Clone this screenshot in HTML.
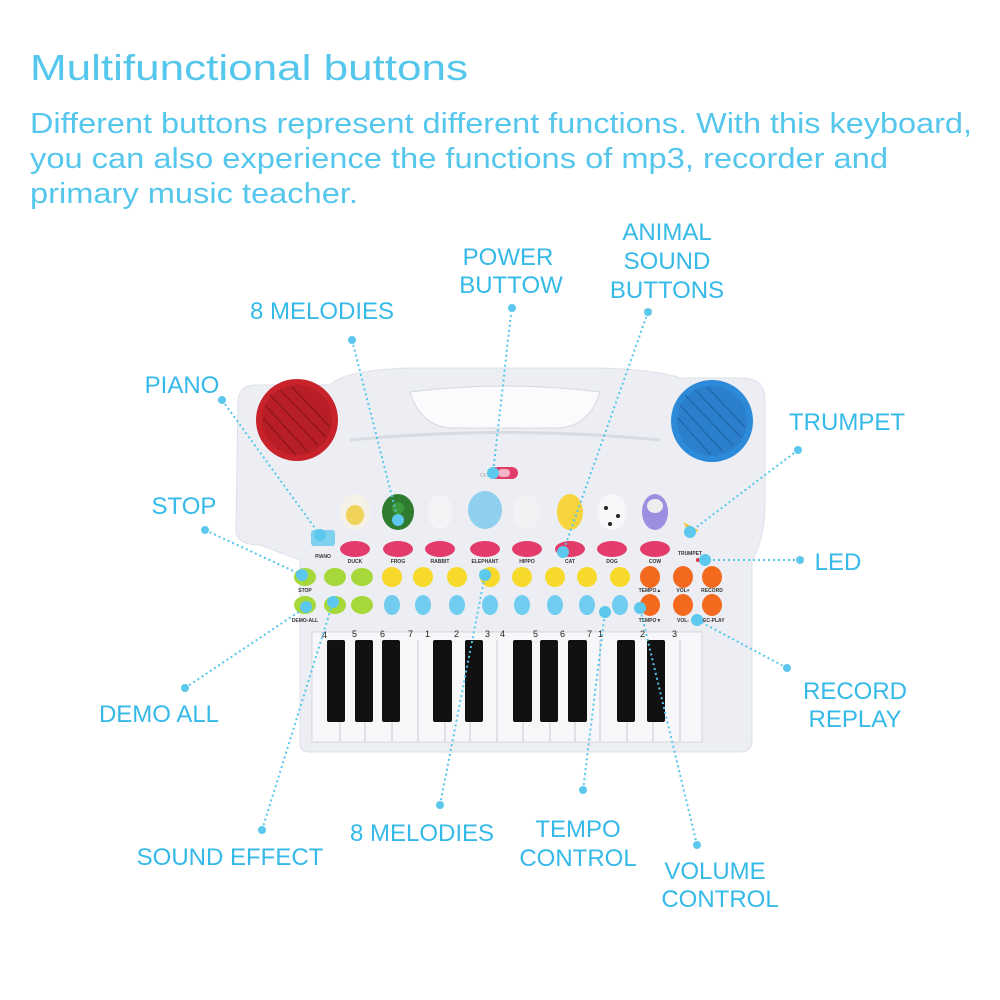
<!DOCTYPE html>
<html><head><meta charset="utf-8"><style>
html,body{margin:0;padding:0;background:#fff;}
svg{display:block;}
text{font-family:"Liberation Sans",sans-serif;}
.t{fill:#55c6ec;font-weight:300;}
.l{fill:#35b9e8;font-size:24px;}
.c{stroke:#55c6ec;stroke-width:2;stroke-dasharray:2 3;fill:none;}
.d{fill:#5cc8ee;}
.sl{font-size:5px;fill:#333;font-weight:bold;text-anchor:middle;}
</style></head><body>
<svg width="1000" height="1000" viewBox="0 0 1000 1000" xmlns="http://www.w3.org/2000/svg">
<rect width="1000" height="1000" fill="#fff"/>
<text class="t" x="30" y="80" font-size="36" textLength="438" lengthAdjust="spacingAndGlyphs">Multifunctional buttons</text>
<text class="t" x="30" y="133" font-size="29" textLength="942" lengthAdjust="spacingAndGlyphs">Different buttons represent different functions. With this keyboard,</text>
<text class="t" x="30" y="168" font-size="29" textLength="858" lengthAdjust="spacingAndGlyphs">you can also experience the functions of mp3, recorder and</text>
<text class="t" x="30" y="203" font-size="29" textLength="328" lengthAdjust="spacingAndGlyphs">primary music teacher.</text>

<!-- keyboard body -->
<path d="M255 385 Q240 385 238 400 L236 530 Q236 545 260 545 L300 560 L300 745 Q300 752 310 752 L740 752 Q752 752 752 740 L752 560 Q765 540 765 500 L765 400 Q765 380 745 378 L680 378 Q660 370 600 368 L410 368 Q345 370 330 385 Z" fill="#eceef3" stroke="#dde0e7"/>
<path d="M410 392 Q505 380 600 392 Q590 425 560 428 L450 428 Q420 425 410 392 Z" fill="#fbfbfd" stroke="#d5d8df"/>
<path d="M350 440 Q505 425 660 440" stroke="#d8dbe2" fill="none" stroke-width="3"/>
<circle cx="297" cy="420" r="41" fill="#c8222a"/>
<circle cx="297" cy="420" r="35" fill="#b81e25"/>
<circle cx="712" cy="421" r="41" fill="#2c8ad8"/>
<circle cx="712" cy="421" r="35" fill="#2b7fcc"/>
<g stroke="#7a1015" stroke-width="1.5" opacity=".6">
<line x1="270" y1="395" x2="318" y2="445"/><line x1="265" y1="405" x2="308" y2="452"/><line x1="280" y1="390" x2="326" y2="437"/><line x1="292" y1="387" x2="330" y2="427"/><line x1="263" y1="418" x2="296" y2="455"/>
</g>
<g stroke="#1b5c9a" stroke-width="1.5" opacity=".6">
<line x1="685" y1="395" x2="733" y2="445"/><line x1="680" y1="405" x2="723" y2="452"/><line x1="695" y1="390" x2="741" y2="437"/><line x1="707" y1="387" x2="745" y2="427"/><line x1="678" y1="418" x2="711" y2="455"/>
</g>
<rect x="488" y="467" width="30" height="12" rx="6" fill="#e23d6a"/>
<rect x="498" y="469" width="12" height="8" rx="4" fill="#f5b3c7"/>
<text x="480" y="477" font-size="5" fill="#aaa">OFF</text>

<!-- animals -->
<g>
<ellipse cx="355" cy="512" rx="15" ry="18" fill="#f6f1e6"/><ellipse cx="355" cy="515" rx="9" ry="10" fill="#f2d35a"/>
<ellipse cx="398" cy="512" rx="16" ry="18" fill="#2f7b30"/><circle cx="398" cy="508" r="6" fill="#3d9a3a"/>
<ellipse cx="440" cy="512" rx="12" ry="17" fill="#f4f4f7"/>
<ellipse cx="485" cy="510" rx="17" ry="19" fill="#8fd0ef"/>
<ellipse cx="527" cy="512" rx="14" ry="17" fill="#f2f2f5"/>
<ellipse cx="570" cy="512" rx="13" ry="18" fill="#f5d440"/>
<ellipse cx="612" cy="512" rx="15" ry="18" fill="#f7f7fa"/><circle cx="606" cy="508" r="2" fill="#222"/><circle cx="618" cy="516" r="2" fill="#222"/><circle cx="610" cy="524" r="2" fill="#222"/>
<ellipse cx="655" cy="512" rx="13" ry="18" fill="#9a8fe0"/><ellipse cx="655" cy="506" rx="8" ry="7" fill="#eee"/>
</g>
<rect x="311" y="530" width="24" height="16" rx="3" fill="#7fcfef"/>
<path d="M683 522 L698 530 L692 538 Z" fill="#f1c13c"/>
<circle cx="698" cy="560" r="2" fill="#e03030"/>
<g fill="#e33b6a">
<ellipse cx="355" cy="549" rx="15" ry="8"/><ellipse cx="398" cy="549" rx="15" ry="8"/><ellipse cx="440" cy="549" rx="15" ry="8"/><ellipse cx="485" cy="549" rx="15" ry="8"/><ellipse cx="527" cy="549" rx="15" ry="8"/><ellipse cx="570" cy="549" rx="15" ry="8"/><ellipse cx="612" cy="549" rx="15" ry="8"/><ellipse cx="655" cy="549" rx="15" ry="8"/>
</g>
<text class="sl" x="323" y="558">PIANO</text><text class="sl" x="355" y="563">DUCK</text><text class="sl" x="398" y="563">FROG</text><text class="sl" x="440" y="563">RABBIT</text><text class="sl" x="485" y="563">ELEPHANT</text><text class="sl" x="527" y="563">HIPPO</text><text class="sl" x="570" y="563">CAT</text><text class="sl" x="612" y="563">DOG</text><text class="sl" x="655" y="563">COW</text><text class="sl" x="690" y="555">TRUMPET</text>
<g fill="#a6d83a">
<ellipse cx="305" cy="577" rx="11" ry="9"/><ellipse cx="335" cy="577" rx="11" ry="9"/><ellipse cx="362" cy="577" rx="11" ry="9"/>
<ellipse cx="305" cy="605" rx="11" ry="9"/><ellipse cx="335" cy="605" rx="11" ry="9"/><ellipse cx="362" cy="605" rx="11" ry="9"/>
</g>
<g fill="#f6d92a">
<circle cx="392" cy="577" r="10"/><circle cx="423" cy="577" r="10"/><circle cx="457" cy="577" r="10"/><circle cx="490" cy="577" r="10"/><circle cx="522" cy="577" r="10"/><circle cx="555" cy="577" r="10"/><circle cx="587" cy="577" r="10"/><circle cx="620" cy="577" r="10"/>
</g>
<g fill="#70cdf0">
<ellipse cx="392" cy="605" rx="8" ry="10"/><ellipse cx="423" cy="605" rx="8" ry="10"/><ellipse cx="457" cy="605" rx="8" ry="10"/><ellipse cx="490" cy="605" rx="8" ry="10"/><ellipse cx="522" cy="605" rx="8" ry="10"/><ellipse cx="555" cy="605" rx="8" ry="10"/><ellipse cx="587" cy="605" rx="8" ry="10"/><ellipse cx="620" cy="605" rx="8" ry="10"/>
</g>
<g fill="#f36a1f">
<ellipse cx="650" cy="577" rx="10" ry="11"/><ellipse cx="683" cy="577" rx="10" ry="11"/><ellipse cx="712" cy="577" rx="10" ry="11"/>
<ellipse cx="650" cy="605" rx="10" ry="11"/><ellipse cx="683" cy="605" rx="10" ry="11"/><ellipse cx="712" cy="605" rx="10" ry="11"/>
</g>
<g><text class="sl" x="305" y="592">STOP</text><text class="sl" x="305" y="622">DEMO-ALL</text><text class="sl" x="650" y="592">TEMPO▲</text><text class="sl" x="683" y="592">VOL+</text><text class="sl" x="712" y="592">RECORD</text><text class="sl" x="650" y="622">TEMPO▼</text><text class="sl" x="683" y="622">VOL-</text><text class="sl" x="712" y="622">REC-PLAY</text></g>
<rect x="312" y="632" width="390" height="110" fill="#f7f7f9" stroke="#d5d7dd"/>
<g stroke="#cfd1d7" stroke-width="1.2">
<line x1="340" y1="640" x2="340" y2="742"/><line x1="365" y1="640" x2="365" y2="742"/><line x1="392" y1="640" x2="392" y2="742"/><line x1="418" y1="640" x2="418" y2="742"/><line x1="445" y1="640" x2="445" y2="742"/><line x1="470" y1="640" x2="470" y2="742"/><line x1="497" y1="640" x2="497" y2="742"/><line x1="523" y1="640" x2="523" y2="742"/><line x1="550" y1="640" x2="550" y2="742"/><line x1="575" y1="640" x2="575" y2="742"/><line x1="600" y1="640" x2="600" y2="742"/><line x1="627" y1="640" x2="627" y2="742"/><line x1="653" y1="640" x2="653" y2="742"/><line x1="680" y1="640" x2="680" y2="742"/>
</g>
<g fill="#111">
<rect x="327" y="640" width="18" height="82" rx="2"/><rect x="355" y="640" width="18" height="82" rx="2"/><rect x="382" y="640" width="18" height="82" rx="2"/><rect x="433" y="640" width="19" height="82" rx="2"/><rect x="465" y="640" width="18" height="82" rx="2"/><rect x="513" y="640" width="19" height="82" rx="2"/><rect x="540" y="640" width="18" height="82" rx="2"/><rect x="568" y="640" width="19" height="82" rx="2"/><rect x="617" y="640" width="18" height="82" rx="2"/><rect x="647" y="640" width="18" height="82" rx="2"/>
</g>
<g font-size="9" fill="#222"><text x="322" y="638">4</text><text x="352" y="637">5</text><text x="380" y="637">6</text><text x="408" y="637">7</text><text x="425" y="637">1</text><text x="454" y="637">2</text><text x="485" y="637">3</text><text x="500" y="637">4</text><text x="533" y="637">5</text><text x="560" y="637">6</text><text x="587" y="637">7</text><text x="598" y="637">1</text><text x="640" y="637">2</text><text x="672" y="637">3</text></g>

<g class="c">
<line x1="352" y1="340" x2="398" y2="520"/>
<line x1="512" y1="305" x2="493" y2="473"/>
<line x1="648" y1="312" x2="563" y2="552"/>
<line x1="222" y1="400" x2="320" y2="535"/>
<line x1="205" y1="530" x2="302" y2="575"/>
<line x1="798" y1="450" x2="690" y2="532"/>
<line x1="800" y1="560" x2="705" y2="560"/>
<line x1="185" y1="688" x2="306" y2="607"/>
<line x1="787" y1="668" x2="697" y2="620"/>
<line x1="262" y1="830" x2="333" y2="602"/>
<line x1="440" y1="805" x2="485" y2="575"/>
<line x1="583" y1="790" x2="605" y2="612"/>
<line x1="697" y1="845" x2="640" y2="608"/>
</g>
<g class="d">
<circle cx="352" cy="340" r="4"/><circle cx="398" cy="520" r="6"/>
<circle cx="512" cy="308" r="4"/><circle cx="493" cy="473" r="6"/>
<circle cx="648" cy="312" r="4"/><circle cx="563" cy="552" r="6"/>
<circle cx="222" cy="400" r="4"/><circle cx="320" cy="535" r="6"/>
<circle cx="205" cy="530" r="4"/><circle cx="302" cy="575" r="6"/>
<circle cx="798" cy="450" r="4"/><circle cx="690" cy="532" r="6"/>
<circle cx="800" cy="560" r="4"/><circle cx="705" cy="560" r="6"/>
<circle cx="185" cy="688" r="4"/><circle cx="306" cy="607" r="6"/>
<circle cx="787" cy="668" r="4"/><circle cx="697" cy="620" r="6"/>
<circle cx="262" cy="830" r="4"/><circle cx="333" cy="602" r="6"/>
<circle cx="440" cy="805" r="4"/><circle cx="485" cy="575" r="6"/>
<circle cx="583" cy="790" r="4"/><circle cx="605" cy="612" r="6"/>
<circle cx="697" cy="845" r="4"/><circle cx="640" cy="608" r="6"/>
</g>

<g class="l">
<text x="508" y="265" text-anchor="middle">POWER</text><text x="511" y="293" text-anchor="middle">BUTTOW</text>
<text x="667" y="240" text-anchor="middle">ANIMAL</text><text x="667" y="269" text-anchor="middle">SOUND</text><text x="667" y="298" text-anchor="middle">BUTTONS</text>
<text x="322" y="319" text-anchor="middle">8 MELODIES</text>
<text x="182" y="393" text-anchor="middle">PIANO</text>
<text x="847" y="430" text-anchor="middle">TRUMPET</text>
<text x="184" y="514" text-anchor="middle">STOP</text>
<text x="838" y="570" text-anchor="middle">LED</text>
<text x="855" y="699" text-anchor="middle">RECORD</text><text x="855" y="727" text-anchor="middle">REPLAY</text>
<text x="159" y="722" text-anchor="middle">DEMO ALL</text>
<text x="422" y="841" text-anchor="middle">8 MELODIES</text>
<text x="578" y="837" text-anchor="middle">TEMPO</text><text x="578" y="866" text-anchor="middle">CONTROL</text>
<text x="230" y="865" text-anchor="middle">SOUND EFFECT</text>
<text x="715" y="879" text-anchor="middle">VOLUME</text><text x="720" y="907" text-anchor="middle">CONTROL</text>
</g>
</svg>
</body></html>
